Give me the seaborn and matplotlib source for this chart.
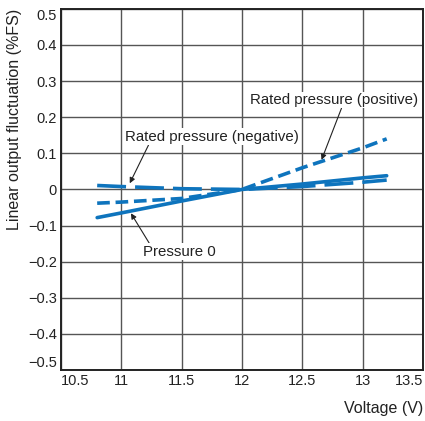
import pandas as pd
import matplotlib.pyplot as plt
import seaborn as sns

# values
voltage = [10.8, 11.0, 11.5, 12.0, 12.5, 13.0, 13.2]
pressure_zero = [-0.078, -0.065, -0.032, 0.0, 0.015, 0.032, 0.038]
rated_positive = [-0.038, -0.035, -0.025, 0.0, 0.06, 0.115, 0.14]
rated_negative = [0.011, 0.008, 0.002, 0.0, 0.008, 0.02, 0.026]

x_ticks = [10.5, 11, 11.5, 12, 12.5, 13, 13.5]
y_ticks = [0.5, 0.4, 0.3, 0.2, 0.1, 0, -0.1, -0.2, -0.3, -0.4, -0.5]

series = {
    'Pressure 0': pressure_zero,
    'Rated pressure (positive)': rated_positive,
    'Rated pressure (negative)': rated_negative,
}
df = pd.concat(
    [pd.DataFrame({'Voltage': voltage, 'Value': v, 'Series': k}) for k, v in series.items()],
    ignore_index=True,
)

sns.set_style('white')
plt.rcParams['font.family'] = ['Liberation Sans', 'DejaVu Sans']

blue = '#0e74bd'
ink = '#222222'
fig = plt.figure(figsize=(4.25, 4.21), dpi=100)
ax = fig.add_axes([0.1435, 0.121, 0.8515, 0.858])

sns.lineplot(
    data=df, x='Voltage', y='Value', hue='Series', style='Series',
    palette={k: blue for k in series},
    dashes={'Pressure 0': '', 'Rated pressure (positive)': (3.5, 1.6),
            'Rated pressure (negative)': (8, 2.5)},
    linewidth=2.6, legend=False, ax=ax, zorder=3,
)

ax.set_xlim(10.5, 13.5)
ax.set_ylim(-0.5, 0.5)
ax.set_xticks(x_ticks)
ax.set_xticklabels([f'{t:g}' for t in x_ticks])
ax.set_yticks(y_ticks)
ax.set_yticklabels([f'{t:g}'.replace('-', '\u2212') for t in y_ticks])
ax.tick_params(length=0, labelsize=10.5, pad=3, colors=ink)
# end labels sit inside the axis corners
xl = ax.get_xticklabels()
xl[0].set_ha('left')
xl[-1].set_ha('right')
yl = ax.get_yticklabels()
yl[0].set_va('top')
yl[-1].set_va('bottom')

ax.grid(True, color='#555555', linewidth=1)
for s in ax.spines.values():
    s.set_color(ink)
    s.set_linewidth(1.4)

ax.set_xlabel('Voltage (V)', loc='right', fontsize=11.5, color=ink, labelpad=9)
ax.set_ylabel('Linear output fluctuation (%FS)', loc='top', fontsize=11.5, color=ink, labelpad=4)

arrow = dict(arrowstyle='-|>', color=ink, lw=0.8, mutation_scale=8, shrinkA=0, shrinkB=0)
bbox = dict(facecolor='white', edgecolor='none', pad=1)
ax.annotate('Rated pressure (positive)', xy=(12.66, 0.082), xytext=(12.76, 0.248),
            ha='center', va='center', fontsize=10.8, color=ink, bbox=bbox,
            arrowprops=dict(arrow, relpos=(0.55, 0)))
ax.annotate('Rated pressure (negative)', xy=(11.07, 0.017), xytext=(11.75, 0.146),
            ha='center', va='center', fontsize=10.8, color=ink, bbox=bbox,
            arrowprops=dict(arrow, relpos=(0.14, 0)))
ax.annotate('Pressure 0', xy=(11.08, -0.066), xytext=(11.48, -0.172),
            ha='center', va='center', fontsize=10.8, color=ink, bbox=bbox,
            arrowprops=dict(arrow, relpos=(0.1, 1)))

fig.savefig('out.png', dpi=100)
